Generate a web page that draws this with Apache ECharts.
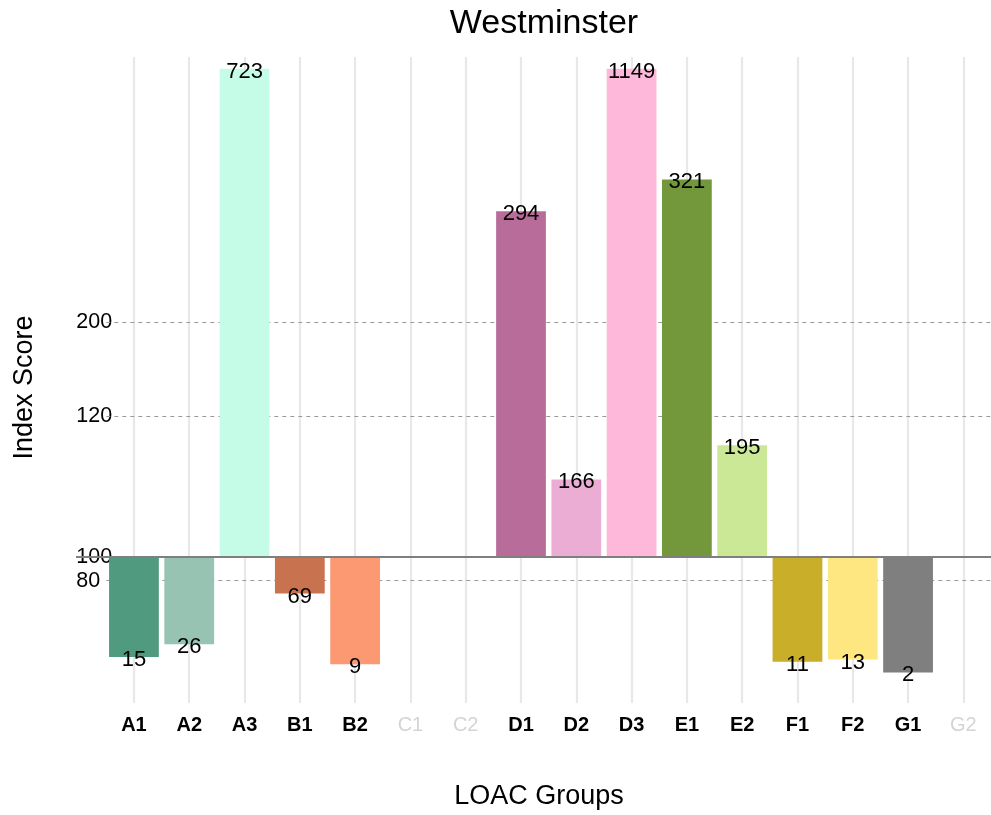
<!DOCTYPE html>
<html>
<head>
<meta charset="utf-8">
<script src="https://cdn.jsdelivr.net/npm/echarts@6/dist/echarts.min.js"></script>
<style>html,body{margin:0;padding:0;background:#fff;}#main{width:991px;height:815px;}</style>
</head>
<body>
<div id="main"></div>
<script>
// ---- data ----
const categories = ['A1','A2','A3','B1','B2','C1','C2','D1','D2','D3','E1','E2','F1','F2','G1','G2'];
const scores     = [15, 26, 723, 69, 9, null, null, 294, 166, 1149, 321, 195, 11, 13, 2, null];
const barColors  = ['#509A80','#96C3B2','#C5FCE8','#C8724F','#FC9972','#cccccc','#cccccc','#B86C9A','#EBADD4','#FEB8DA','#73983B','#CBE897','#C9AE29','#FEE680','#7F7F7F','#cccccc'];
const tickValues = [80, 100, 120, 200];
const tickLabels = ['80', '100', '120', '200'];

// ---- scale used by the original figure ----
const BASELINE = 100;   // bars grow from index 100
const HIGH = 200;       // above this, bars are placed on the raw index
const CAP = 415;        // plot limit for very large values
function barPos(v) {
  if (v == null) return null;
  if (v > HIGH) return Math.min(v, CAP);
  return v - BASELINE;
}
function tickPos(v) { return v > BASELINE ? v : v - BASELINE; }

const FONT = '"Liberation Sans", Arial, Helvetica, sans-serif';
const tickPositions = tickValues.map(tickPos);

const chart = echarts.init(document.getElementById('main'), null, {renderer: 'canvas'});

const option = {
  backgroundColor: '#ffffff',
  animation: false,
  textStyle: {fontFamily: FONT},
  title: {
    text: 'Westminster',
    left: 539, top: 2, textAlign: 'center',
    textStyle: {fontSize: 34, fontWeight: 'normal', color: '#000', fontFamily: FONT}
  },
  grid: {left: 106.3, top: 57, width: 887.5, height: 646, containLabel: false},
  xAxis: {
    type: 'category',
    data: categories,
    axisLine: {show: false},
    axisTick: {show: false},
    splitLine: {show: false},
    axisLabel: {
      margin: 12,
      interval: 0,
      formatter: function (val, idx) {
        return (scores[idx] == null ? '{g|' : '{b|') + val + '}';
      },
      rich: {
        b: {fontSize: 20, fontWeight: 'bold', color: '#000', fontFamily: FONT},
        g: {fontSize: 20, fontWeight: 'normal', color: '#d4d4d4', fontFamily: FONT}
      }
    }
  },
  yAxis: {
    type: 'value',
    min: -124, max: 425,
    axisLine: {show: false},
    axisTick: {show: false},
    splitLine: {show: false},
    axisLabel: {
      customValues: tickPositions,
      align: 'left',
      margin: 30,
      fontSize: 21.5,
      color: '#000',
      fontFamily: FONT,
      formatter: function (val) {
        let best = 0;
        for (let i = 0; i < tickPositions.length; i++) {
          if (Math.abs(tickPositions[i] - val) < Math.abs(tickPositions[best] - val)) best = i;
        }
        return tickLabels[best];
      }
    }
  },
  series: [
    {
      type: 'bar',
      z: 2,
      barWidth: '90%',
      data: scores.map((v, i) => v == null ? null : {value: barPos(v), itemStyle: {color: barColors[i]}}),
      markLine: {
        z: 1,
        silent: true,
        symbol: 'none',
        label: {show: false},
        animation: false,
        data: categories.map(c => ({xAxis: c, lineStyle: {color: '#e8e8e8', width: 2.2, type: 'solid'}}))
          .concat(tickValues.filter(v => v !== BASELINE).map(v => ({yAxis: tickPos(v), lineStyle: {color: '#9a9a9a', width: 1, type: [4, 4]}})))
      }
    },
    {
      type: 'scatter',
      z: 5,
      symbol: 'rect',
      symbolSize: 2,
      itemStyle: {color: 'rgba(0,0,0,0)'},
      silent: true,
      data: scores.map((v, i) => v == null ? null : [i, barPos(v), v]),
      label: {
        show: true,
        position: [1, 4],
        align: 'center',
        verticalAlign: 'middle',
        fontSize: 22,
        color: '#000',
        opacity: 1,
        fontFamily: FONT,
        formatter: p => String(p.value[2])
      },
      labelLayout: {hideOverlap: false}
    }
  ]
};
chart.setOption(option);

const zeroY = chart.convertToPixel({yAxisIndex: 0}, 0);
chart.setOption({
  graphic: [
    {type: 'line', z: 10, silent: true,
     shape: {x1: 76, y1: zeroY, x2: 994, y2: zeroY},
     style: {stroke: '#7f7f7f', lineWidth: 2}},
    {type: 'text', x: 539, y: 797, silent: true,
     style: {text: 'LOAC Groups', font: '27px ' + FONT, fill: '#000', textAlign: 'center', textVerticalAlign: 'middle'}},
    {type: 'text', x: 24.3, y: 387.5, rotation: Math.PI / 2, silent: true,
     style: {text: 'Index Score', font: '27px ' + FONT, fill: '#000', textAlign: 'center', textVerticalAlign: 'middle'}}
  ]
});
</script>
</body>
</html>
